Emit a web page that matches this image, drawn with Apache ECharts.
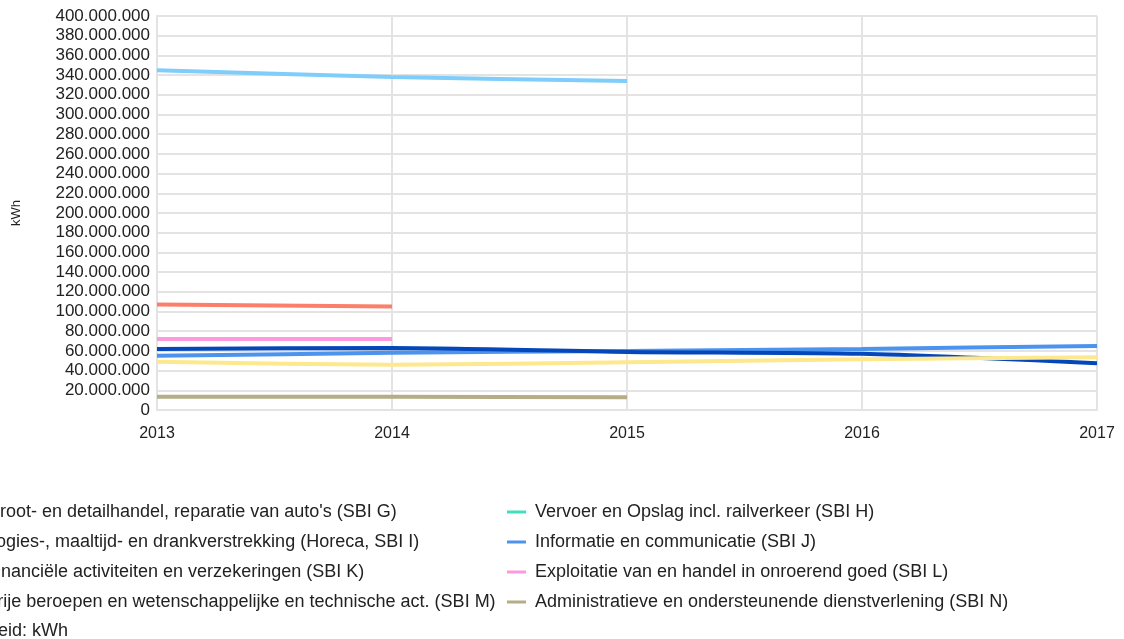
<!DOCTYPE html>
<html>
<head>
<meta charset="utf-8">
<script src="https://cdn.jsdelivr.net/npm/echarts@6/dist/echarts.min.js"></script>
<style>
  html, body { margin: 0; padding: 0; background: #fff; }
  #chart { width: 1124px; height: 639px; }
</style>
</head>
<body>
<div id="chart"></div>
<script>
const years = ['2013', '2014', '2015', '2016', '2017']

// kWh per year, null where there is no value
const sbiG = [345e6, 338e6, 334e6, null, null]
const sbiH = [null, null, null, null, null]
const sbiI = [107e6, 105e6, null, null, null]
const sbiJ = [55e6, 58e6, 60e6, 62e6, 65e6]
const sbiK = [62e6, 63e6, 59e6, 57e6, 47.5e6]
const sbiL = [72e6, 72e6, null, null, null]
const sbiM = [49e6, 46e6, 48.5e6, 51.5e6, 53.5e6]
const sbiN = [13.5e6, 13.5e6, 13e6, null, null]

const names = {
  G: "Groot- en detailhandel, reparatie van auto's (SBI G)",
  H: 'Vervoer en Opslag incl. railverkeer (SBI H)',
  I: 'Logies-, maaltijd- en drankverstrekking (Horeca, SBI I)',
  J: 'Informatie en communicatie (SBI J)',
  K: 'Financiële activiteiten en verzekeringen (SBI K)',
  L: 'Exploitatie van en handel in onroerend goed (SBI L)',
  M: 'Vrije beroepen en wetenschappelijke en technische act. (SBI M)',
  N: 'Administratieve en ondersteunende dienstverlening (SBI N)',
}

const unitLabel = 'Eenheid: kWh'

const colors = {
  G: '#7fcdfb', H: '#3fe0c0', I: '#fb7f6a', J: '#4c93ee',
  K: '#0347bb', L: '#ff99dd', M: '#fde88e', N: '#b5ad86',
}

const font = '"Liberation Sans", Arial, sans-serif'
const txt = '#222'
const gridCol = '#e3e3e3'

const fmt = (v) => String(Math.round(v)).replace(/\B(?=(\d{3})+(?!\d))/g, '.')

const seriesDefs = [
  ['G', sbiG], ['H', sbiH], ['I', sbiI], ['J', sbiJ],
  ['K', sbiK], ['L', sbiL], ['M', sbiM], ['N', sbiN],
]

const chart = echarts.init(document.getElementById('chart'))

const legendBase = {
  orient: 'vertical',
  top: 498,
  padding: 5,
  icon: 'rect',
  itemWidth: 19,
  itemHeight: 3,
  itemGap: 12,
  textStyle: { fontFamily: font, fontSize: 18, color: txt, lineHeight: 18, padding: [0, 0, 0, 4] },
}

chart.setOption({
  animation: false,
  backgroundColor: '#fff',
  textStyle: { fontFamily: font },
  grid: { left: 157, right: 27, top: 16, bottom: 229 },
  legend: [
    { ...legendBase, left: -47, data: [names.G, names.I, names.K, names.M] },
    { ...legendBase, left: 502, data: [names.H, names.J, names.L, names.N] },
  ],
  graphic: [{
    type: 'text',
    left: -44,
    top: 622,
    style: { text: unitLabel, fontFamily: font, fontSize: 18, fill: txt },
  }],
  xAxis: {
    type: 'category',
    data: years,
    boundaryGap: false,
    axisLine: { lineStyle: { color: gridCol, width: 2 } },
    axisTick: { show: false },
    axisLabel: { fontSize: 16, color: txt, margin: 16, fontFamily: font },
    splitLine: { show: true, lineStyle: { color: gridCol, width: 2 } },
  },
  yAxis: {
    type: 'value',
    min: 0,
    max: 400e6,
    interval: 20e6,
    name: 'kWh',
    nameLocation: 'middle',
    nameGap: 134,
    nameTextStyle: { fontSize: 13, color: txt, fontFamily: font },
    axisLine: { show: true, lineStyle: { color: gridCol, width: 2 } },
    axisTick: { show: false },
    axisLabel: { fontSize: 17, color: txt, margin: 7, fontFamily: font, formatter: fmt },
    splitLine: { lineStyle: { color: gridCol, width: 2 } },
  },
  series: seriesDefs.map(([k, data]) => ({
    name: names[k],
    type: 'line',
    data: data,
    smooth: 0.25,
    symbol: 'none',
    connectNulls: false,
    color: colors[k],
    lineStyle: { width: 4, color: colors[k] },
  })),
})
</script>
</body>
</html>
